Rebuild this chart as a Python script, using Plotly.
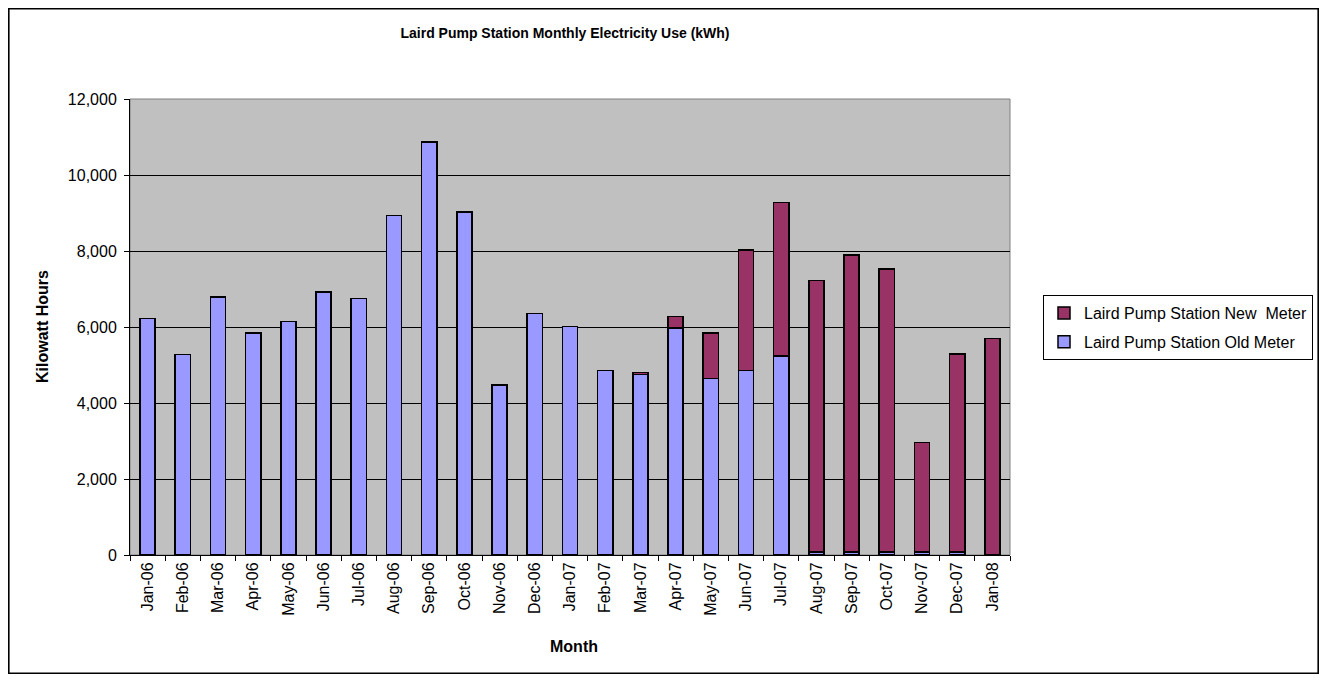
import plotly.graph_objects as go

months = [
    "Jan-06", "Feb-06", "Mar-06", "Apr-06", "May-06", "Jun-06", "Jul-06",
    "Aug-06", "Sep-06", "Oct-06", "Nov-06", "Dec-06", "Jan-07", "Feb-07",
    "Mar-07", "Apr-07", "May-07", "Jun-07", "Jul-07", "Aug-07", "Sep-07",
    "Oct-07", "Nov-07", "Dec-07", "Jan-08",
]
old_meter = [
    6230, 5280, 6790, 5840, 6150, 6920, 6750, 8940, 10870, 9020, 4470, 6360,
    6010, 4860, 4750, 5970, 4640, 4860, 5240, 80, 80, 80, 80, 80, 0,
]
new_meter = [
    0, 0, 0, 0, 0, 0, 0, 0, 0, 0, 0, 0, 0, 0,
    55, 300, 1200, 3170, 4040, 7140, 7820, 7440, 2875, 5210, 5700,
]

FONT = "Liberation Sans, Arial, sans-serif"

# the page body adds an 8px margin, so the figure is drawn 16px smaller
W, H = 1311, 666
PL, PR, PT, PB = 122, 1002, 91, 547  # plot area in figure pixels
PW, PH = PR - PL, PB - PT


def px_x(x):
    return (x - PL) / PW


def px_y(y):
    return (PB - y) / PH


fig = go.Figure()
fig.add_trace(
    go.Bar(
        x=months,
        y=old_meter,
        name="Laird Pump Station Old Meter",
        legendgroup="old",
        legendrank=2,
        marker={"color": "#9999FF", "line": {"color": "#000000", "width": 1.5}},
    )
)
fig.add_trace(
    go.Bar(
        x=months,
        y=new_meter,
        name="Laird Pump Station New  Meter",
        legendgroup="new",
        legendrank=1,
        marker={"color": "#993366", "line": {"color": "#000000", "width": 1.5}},
    )
)

fig.update_layout(
    width=W,
    height=H,
    barmode="stack",
    bargap=0.57,
    paper_bgcolor="#ffffff",
    plot_bgcolor="#C0C0C0",
    margin={"l": PL, "r": W - PR, "t": PT, "b": H - PB, "autoexpand": False},
    font={"family": FONT, "color": "#000000", "size": 16},
    title={
        "text": "<b>Laird Pump Station Monthly Electricity Use (kWh)</b>",
        "x": px_x(557),
        "xref": "paper",
        "xanchor": "center",
        "y": 1 - 25 / H,
        "yanchor": "middle",
        "font": {"family": FONT, "size": 14, "color": "#000000"},
    },
    legend={
        "x": px_x(1035),
        "y": px_y(287),
        "xanchor": "left",
        "yanchor": "top",
        "traceorder": "grouped",
        "tracegroupgap": 5,
        "bgcolor": "#ffffff",
        "bordercolor": "#000000",
        "borderwidth": 1,
        "font": {"family": FONT, "size": 16, "color": "#000000"},
    },
    xaxis={
        "type": "category",
        "tickangle": -90,
        "ticks": "outside",
        "ticklen": 5,
        "tickcolor": "#000000",
        "tickson": "boundaries",
        "showline": True,
        "linecolor": "#000000",
        "linewidth": 1,
        "showgrid": False,
        "tickfont": {"family": FONT, "size": 16, "color": "#000000"},
    },
    yaxis={
        "range": [0, 12000],
        "dtick": 2000,
        "tickformat": ",",
        "ticks": "outside",
        "ticklen": 5,
        "tickcolor": "#000000",
        "ticklabelstandoff": 4,
        "showline": True,
        "linecolor": "#000000",
        "linewidth": 1,
        "showgrid": True,
        "gridcolor": "#000000",
        "gridwidth": 1,
        "zeroline": False,
        "tickfont": {"family": FONT, "size": 16, "color": "#000000"},
    },
    shapes=[
        # gray frame around plot area
        {
            "type": "rect", "xref": "paper", "yref": "paper",
            "x0": 0, "x1": 1, "y0": 0, "y1": 1,
            "line": {"color": "#808080", "width": 1}, "layer": "below",
        },
        # outer chart border
        {
            "type": "rect", "xref": "paper", "yref": "paper",
            "x0": px_x(0.8), "x1": px_x(W - 0.8),
            "y0": px_y(H - 0.8), "y1": px_y(0.8),
            "line": {"color": "#000000", "width": 1.6},
        },
    ],
    annotations=[
        {
            "text": "<b>Kilowatt Hours</b>",
            "xref": "paper", "yref": "paper",
            "x": px_x(34), "y": 0.5,
            "textangle": -90, "showarrow": False,
            "xanchor": "center", "yanchor": "middle",
            "font": {"family": FONT, "size": 16, "color": "#000000"},
        },
        {
            "text": "<b>Month</b>",
            "xref": "paper", "yref": "paper",
            "x": px_x(566), "y": px_y(638),
            "showarrow": False,
            "xanchor": "center", "yanchor": "middle",
            "font": {"family": FONT, "size": 16, "color": "#000000"},
        },
    ],
)

fig.write_html("out.html")
